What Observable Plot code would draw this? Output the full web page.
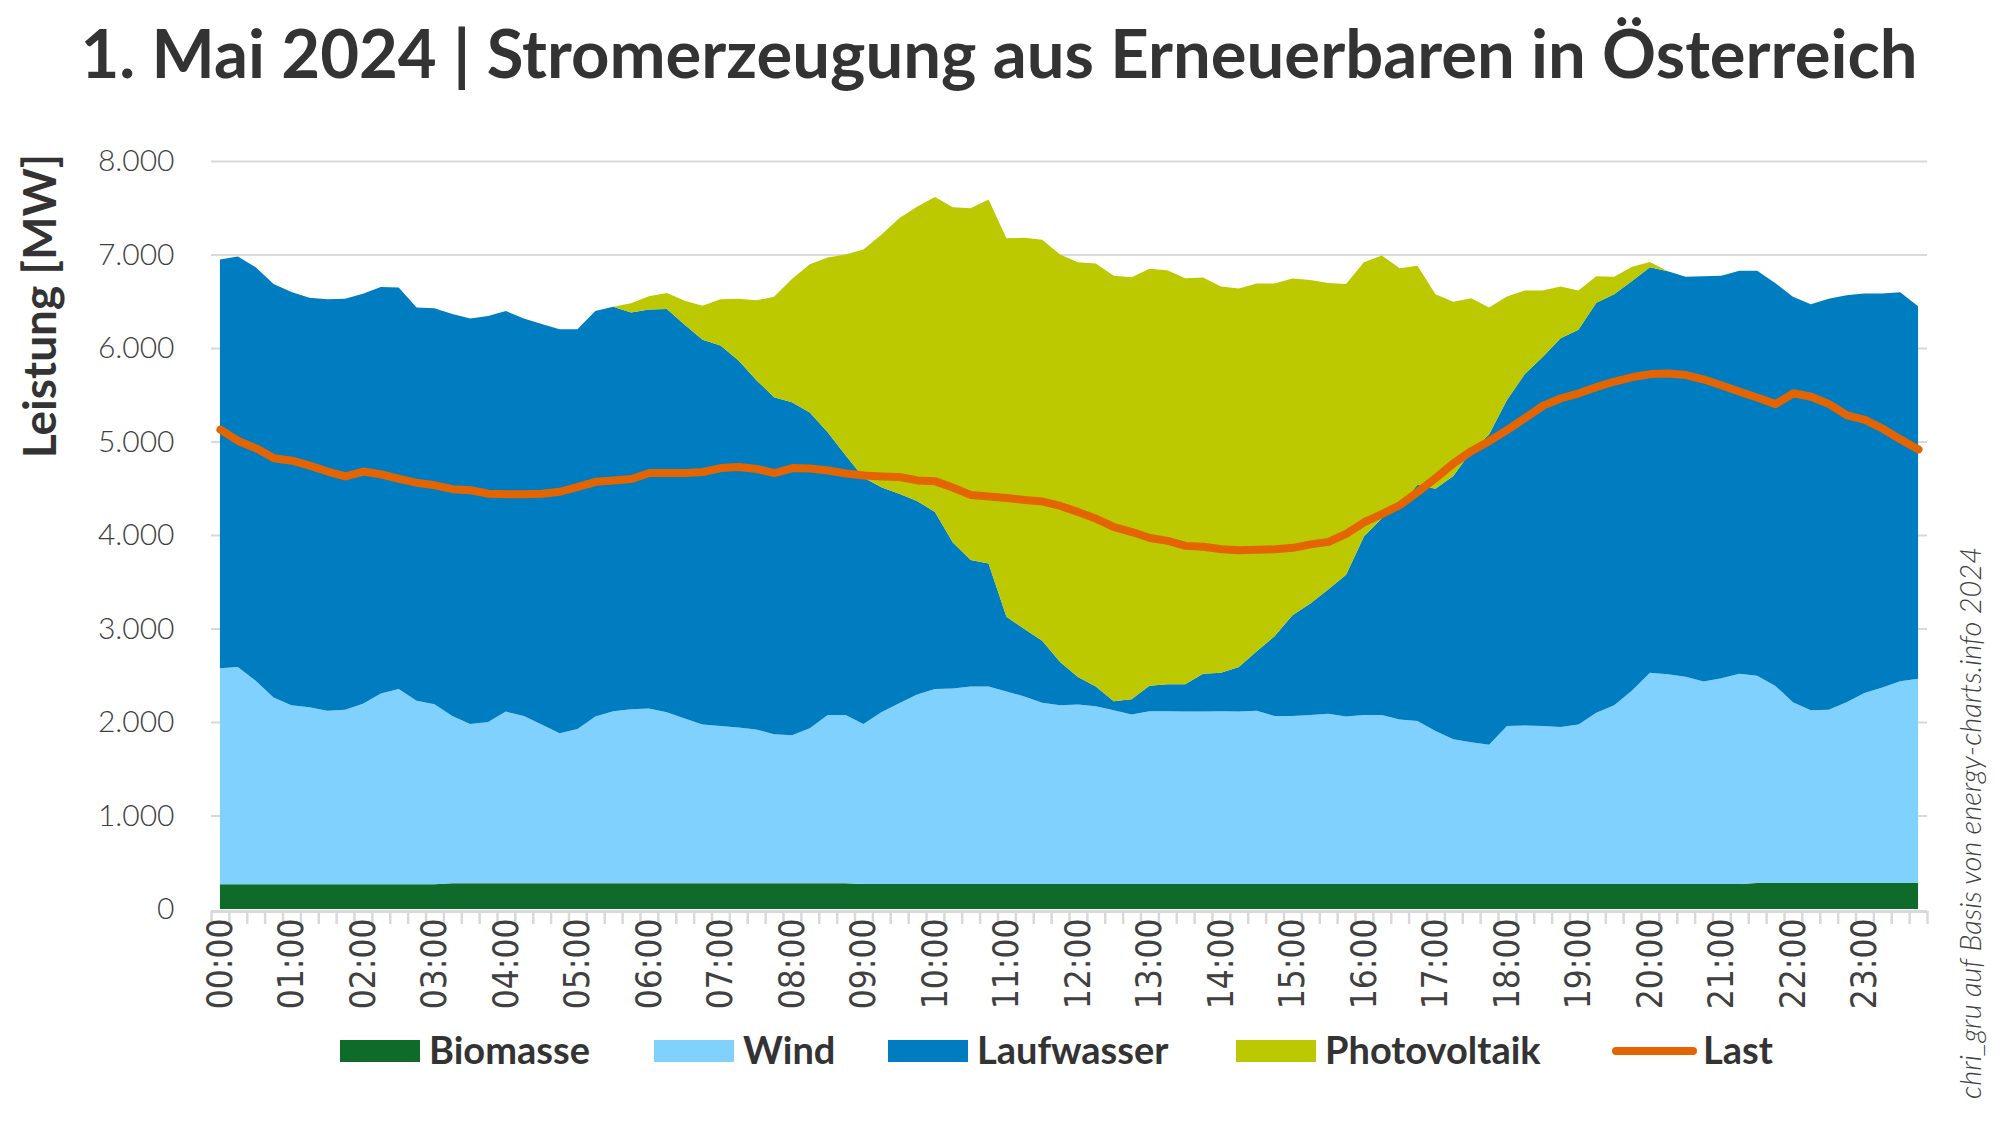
<!DOCTYPE html>
<html><head><meta charset="utf-8">
<script src="https://cdn.jsdelivr.net/npm/d3@7"></script>
<script src="https://cdn.jsdelivr.net/npm/@observablehq/plot@0.6"></script>
<style>
body{margin:0;background:#fff;}
#wrap{position:relative;width:1998px;height:1125px;overflow:hidden;}
#wrap svg{position:absolute;left:0;top:0;}
</style>
</head><body><div id="wrap"></div>
<script>
const series = ["Biomasse","Wind","Laufwasser","Photovoltaik"];
const colors = ["#0F6B2A","#80D1FE","#007CC0","#BDC900"];
const lastColor = "#E46500";
const hourLabels = ["00:00","01:00","02:00","03:00","04:00","05:00","06:00","07:00","08:00","09:00","10:00","11:00",
  "12:00","13:00","14:00","15:00","16:00","17:00","18:00","19:00","20:00","21:00","22:00","23:00"];
const yTicks = [0,1000,2000,3000,4000,5000,6000,7000,8000];

const biomasse = [265,265,265,265,265,265,265,265,265,265,265,265,265,
  275,275,275,275,275,275,275,275,275,275,275,275,275,275,275,275,275,275,275,275,275,275,275,
  268,268,268,268,268,268,268,268,268,268,268,268,268,268,268,268,268,268,268,268,268,268,268,268,268,
  268,268,268,268,268,268,268,268,268,268,268,268,268,268,268,268,268,268,268,268,268,268,268,268,268,
  278,278,278,278,278,278,278,278,278,278];
const wind = [2309,2324,2177,1998,1914,1893,1856,1867,1930,2040,2088,1961,1924,
  1788,1704,1725,1836,1788,1699,1604,1651,1783,1841,1862,1870,1830,1762,1699,1683,1667,1646,1593,1583,1657,1799,1799,
  1711,1837,1932,2027,2085,2090,2111,2111,2058,2006,1937,1911,1918,1900,1858,1811,1848,1848,1843,1843,
  1848,1843,1853,1795,1795,1806,1821,1790,1806,1806,1758,1743,1637,1548,1516,1490,1690,1695,1690,1679,
  1706,1832,1911,2069,2258,2243,2216,2164,2200,2248,
  2217,2111,1933,1848,1854,1933,2033,2090,2159,2185];
const laufwasser = [4373,4390,4421,4421,4421,4379,4400,4394,4384,4348,
  4294,4206,4237,4300,4337,4342,4284,4253,4284,4321,
  4274,4337,4326,4242,4268,4311,4213,4115,4068,3926,
  3737,3606,3563,3379,3026,2779,2637,2406,2242,2068,
  1894,1563,1353,1316,800,721,663,463,294,211,
  95,163,273,289,294,405,410,478,637,853,
  1079,1194,1327,1516,1910,2105,2290,2526,2590,2816,
  3111,3316,3487,3758,3947,4158,4221,4384,4395,4379,
  4337,4310,4279,4336,4306,4310,4331,4306,4336,4342,
  4394,4352,4273,4216,4158,3984];
const photovoltaik = [0,0,0,0,0,0,0,0,0,0,0,0,0,0,0,0,0,0,0,0,0,0,
  0,100,140,173,255,364,495,658,
  853,1073,1316,1584,1868,2147,2437,2700,2947,3148,
  3369,3584,3763,3894,4048,4184,4290,4358,4436,4526,
  4553,4516,4458,4427,4342,4237,4132,4048,3931,3773,
  3600,3458,3279,3110,2932,2810,2537,2342,2079,1863,
  1637,1358,1105,895,711,553,421,284,189,152,
  58,0,0,0,0,0,0,0,0,0,0,0,0,0,0,0];
const last = [5132,5011,4932,4826,4800,4747,4684,4632,4684,4653,
  4605,4563,4537,4495,4484,4447,4442,4442,4447,4468,
  4521,4574,4589,4605,4668,4668,4668,4679,4721,4732,
  4711,4668,4721,4716,4695,4663,4642,4632,4626,4589,
  4579,4511,4432,4416,4400,4379,4363,4316,4250,4179,
  4089,4037,3974,3942,3889,3879,3853,3842,3847,3853,
  3868,3905,3932,4021,4142,4232,4326,4468,4616,4774,
  4905,5011,5130,5258,5389,5468,5521,5589,5647,5695,
  5726,5732,5716,5668,5605,5537,5474,5405,5521,5484,
  5405,5284,5237,5142,5026,4921];

const values = [biomasse, wind, laufwasser, photovoltaik];
const slots = d3.range(last.length);
const table = series.flatMap((s, k) => values[k].map((v, i) => ({slot: i, series: s, value: v})));
const boundaries = d3.range(last.length + 1).map(i => i - 0.5);
const hourSlots = hourLabels.map((_, h) => h * 4);
const fmt = d3.formatLocale({decimal: ",", thousands: ".", grouping: [3], currency: ["", "€"]}).format(",");

const chart = Plot.plot({
  width: 1998, height: 1125,
  marginLeft: 211, marginRight: 71, marginTop: 161, marginBottom: 216,
  x: {domain: [-0.5, slots.length - 0.5], axis: null, label: null},
  y: {domain: [0, 8000], axis: null, label: null},
  color: {domain: series, range: colors},
  style: {background: "transparent", overflow: "visible"},
  marks: [
    Plot.ruleY(yTicks.slice(1), {stroke: "#d9d9d9", strokeWidth: 2}),
    Plot.ruleY([0], {stroke: "#d9d9d9", strokeWidth: 3, dy: 2}),
    Plot.areaY(table, {x: "slot", y: "value", fill: "series", order: series, curve: "linear"}),
    Plot.lineY(last, {x: (d, i) => i, y: d => d, stroke: lastColor, strokeWidth: 8,
      strokeLinecap: "round", strokeLinejoin: "round"}),
    Plot.axisX({ticks: boundaries, tickSize: 13, tickFormat: () => "", label: null,
      stroke: "#d9d9d9", strokeWidth: 2.5, dy: 2}),
    Plot.text(hourSlots, {x: d => d, text: d => hourLabels[d / 4], frameAnchor: "bottom", rotate: -90,
      textAnchor: "end", lineAnchor: "middle", dy: 9, fontSize: 35,
      fontFamily: "'DejaVu Sans Condensed','DejaVu Sans',sans-serif", fill: "#404040"}),
    Plot.axisY({ticks: yTicks, tickSize: 0, tickPadding: 37, tickFormat: fmt, label: null, fontSize: 30,
      fontFamily: "Lato, sans-serif", fill: "#404040"})
  ]
});
document.getElementById("wrap").appendChild(chart);
d3.select(chart).selectAll("g[aria-label='y-axis tick label']").attr("font-weight", 300);

// overlay: title, y label, legend, caption
const ov = d3.select("#wrap").append("svg").attr("width", 1998).attr("height", 1125)
  .style("font-family", "Lato, sans-serif");
ov.append("text").attr("x", 999).attr("y", 78).attr("text-anchor", "middle")
  .attr("font-size", 67).attr("font-weight", 700).attr("fill", "#333")
  .text("1. Mai 2024 | Stromerzeugung aus Erneuerbaren in Österreich");
ov.append("text").attr("transform", "translate(56,306) rotate(-90)").attr("text-anchor", "middle")
  .attr("font-size", 46).attr("font-weight", 700).attr("fill", "#333").text("Leistung [MW]");
ov.append("text").attr("transform", "translate(1981,823) rotate(-90)").attr("text-anchor", "middle")
  .attr("font-size", 29).attr("font-weight", 300).attr("font-style", "italic").attr("fill", "#404040")
  .text("chri_gru auf Basis von energy-charts.info 2024");

const legendItems = [
  {name: "Biomasse", color: colors[0], x: 340, type: "rect"},
  {name: "Wind", color: colors[1], x: 654, type: "rect"},
  {name: "Laufwasser", color: colors[2], x: 888, type: "rect"},
  {name: "Photovoltaik", color: colors[3], x: 1236, type: "rect"},
  {name: "Last", color: lastColor, x: 1612, type: "line"}
];
const lg = ov.append("g");
legendItems.forEach(it => {
  if (it.type === "rect") {
    lg.append("rect").attr("x", it.x).attr("y", 1040).attr("width", 80).attr("height", 22).attr("fill", it.color);
    lg.append("text").attr("x", it.x + 89).attr("y", 1064).attr("font-size", 38).attr("font-weight", 700)
      .attr("fill", "#333").text(it.name);
  } else {
    lg.append("line").attr("x1", it.x + 4).attr("x2", it.x + 81).attr("y1", 1051).attr("y2", 1051)
      .attr("stroke", it.color).attr("stroke-width", 8).attr("stroke-linecap", "round");
    lg.append("text").attr("x", it.x + 91).attr("y", 1064).attr("font-size", 38).attr("font-weight", 700)
      .attr("fill", "#333").text(it.name);
  }
});
</script>
</body></html>
